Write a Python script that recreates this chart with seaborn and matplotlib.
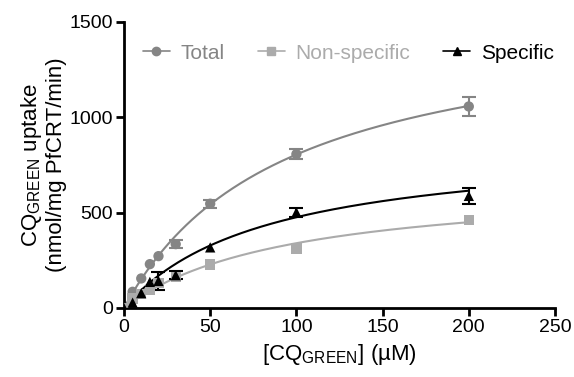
import numpy as np
import pandas as pd
import matplotlib
matplotlib.use("Agg")
import matplotlib.pyplot as plt
import seaborn as sns
from matplotlib.lines import Line2D

sns.set_style("ticks")
plt.rcParams['font.family'] = ['Liberation Sans', 'DejaVu Sans']
plt.rcParams['mathtext.fontset'] = 'custom'
plt.rcParams['mathtext.rm'] = 'Liberation Sans'
plt.rcParams['text.color'] = 'black'
plt.rcParams['axes.labelcolor'] = 'black'
plt.rcParams['xtick.color'] = 'black'
plt.rcParams['ytick.color'] = 'black'
plt.rcParams['axes.edgecolor'] = 'black'

conc = [0, 5, 10, 15, 20, 30, 50, 100, 200]
total = [0, 85, 155, 230, 272, 335, 547, 807, 1057]
total_err = [0, 0, 0, 0, 0, 20, 20, 25, 50]
nonspec = [0, 50, 75, 95, 130, 163, 228, 312, 462]
nonspec_err = [0, 0, 0, 0, 0, 0, 0, 0, 0]
specific = [0, 28, 78, 137, 142, 172, 318, 502, 588]
specific_err = [0, 0, 0, 0, 45, 20, 0, 25, 40]

# Michaelis-Menten fit parameters (Vmax, Km)
fit_params = {"Total": (1552, 92.8), "Non-specific": (665, 95.6), "Specific": (869, 82.5)}

series = ["Total", "Non-specific", "Specific"]
colors = {"Total": "#858585", "Non-specific": "#ababab", "Specific": "#000000"}
markers = {"Total": "o", "Non-specific": "s", "Specific": "^"}

df = pd.DataFrame({
    "conc": conc * 3,
    "val": total + nonspec + specific,
    "err": total_err + nonspec_err + specific_err,
    "series": ["Total"] * 9 + ["Non-specific"] * 9 + ["Specific"] * 9,
})

xs = np.linspace(0, 200, 300)
fit_rows = []
for s in series:
    V, K = fit_params[s]
    for x in xs:
        fit_rows.append((x, V * x / (K + x), s))
fit_df = pd.DataFrame(fit_rows, columns=["conc", "val", "series"])

fig = plt.figure(figsize=(5.74, 3.77), dpi=100)
ax = fig.add_axes([124 / 574, 1 - 308 / 377, (555 - 124) / 574, (308 - 22) / 377])

sns.lineplot(data=fit_df, x="conc", y="val", hue="series", palette=colors,
             hue_order=series, ax=ax, legend=False, linewidth=1.5)
for s in series:
    sub = df[(df.series == s) & (df.err > 0)]
    ax.errorbar(sub.conc, sub.val, yerr=sub.err, fmt="none", ecolor=colors[s],
                elinewidth=1.5, capsize=5, capthick=1.5, zorder=3)
sns.scatterplot(data=df, x="conc", y="val", hue="series", style="series",
                palette=colors, markers=markers, hue_order=series, style_order=series,
                s=55, edgecolor="none", ax=ax, legend=False, zorder=4)

ax.set_xlim(0, 250)
ax.set_ylim(0, 1500)
ax.set_xticks([0, 50, 100, 150, 200, 250])
ax.set_yticks([0, 500, 1000, 1500])
for sp in ["top", "right"]:
    ax.spines[sp].set_visible(False)
for sp in ["left", "bottom"]:
    ax.spines[sp].set_linewidth(2)
ax.tick_params(axis="both", width=2, length=6, labelsize=14, direction="out", pad=2)
ax.set_xlabel("[CQ$_{\\mathrm{GREEN}}$] (µM)", fontsize=16, labelpad=4)
ax.set_ylabel("CQ$_{\\mathrm{GREEN}}$ uptake\n(nmol/mg PfCRT/min)", fontsize=16,
              labelpad=2, linespacing=1.1)

handles = [Line2D([0], [0], color=colors[s], marker=markers[s], markersize=6, linewidth=1.2)
           for s in series]
leg = ax.legend(handles, series, loc="upper left", bbox_to_anchor=(0.0, 0.99), ncol=3,
                frameon=False, fontsize=15, handlelength=1.3, columnspacing=1.6,
                handletextpad=0.5)
for t, s in zip(leg.get_texts(), series):
    t.set_color(colors[s])

fig.savefig("out.png", dpi=100)
